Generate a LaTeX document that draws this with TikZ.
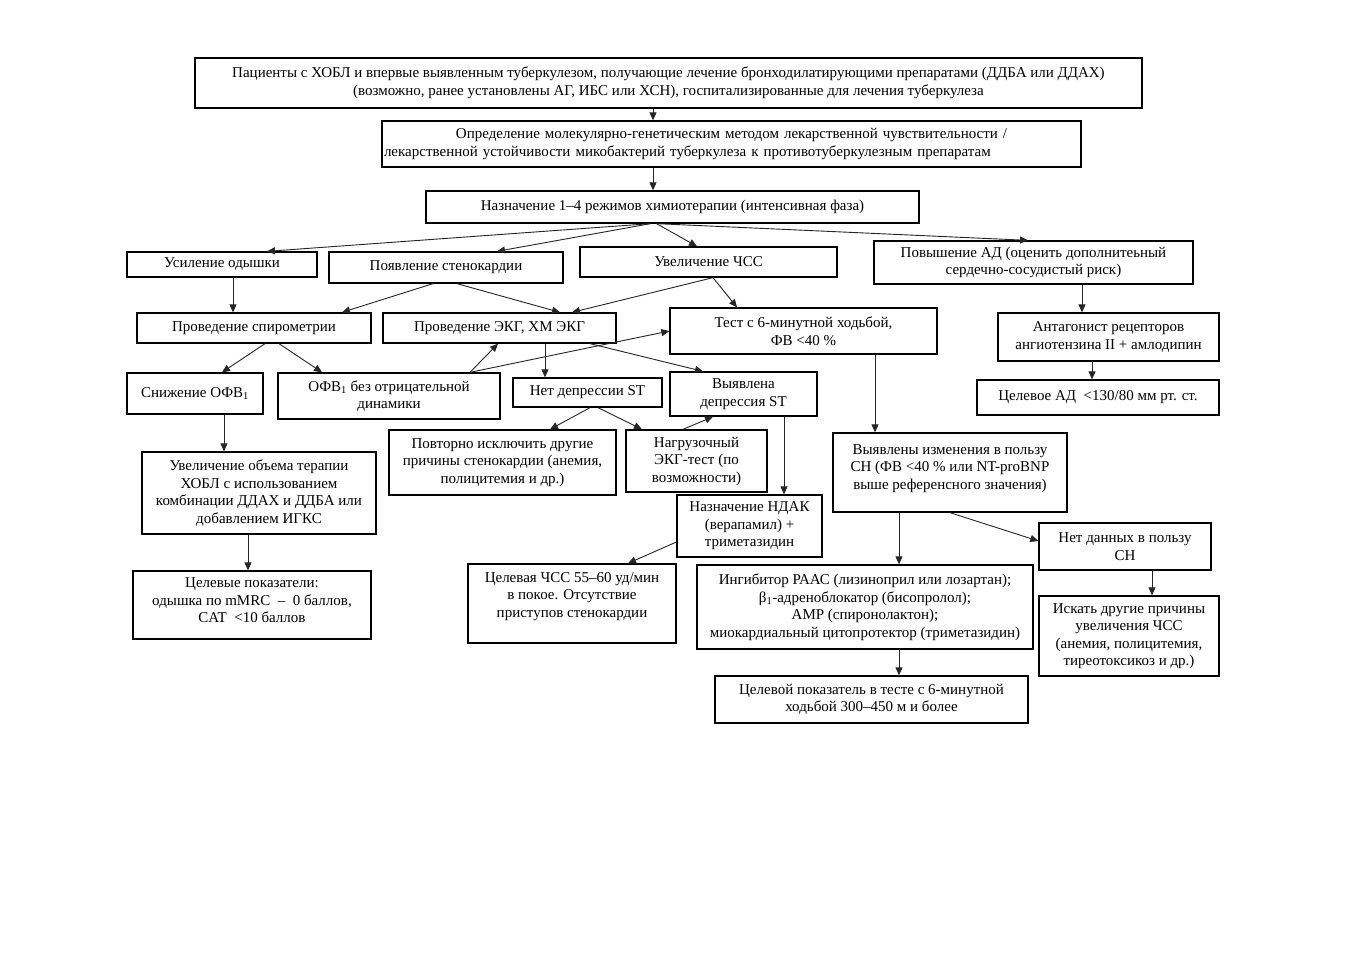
\documentclass[tikz,border=0pt]{standalone}
\usepackage{fontspec}
\setmainfont{Liberation Serif}
\usetikzlibrary{arrows.meta}
\tikzset{
  bx/.style={draw=black, line width=1.3pt, inner sep=0pt, align=center,
    font=\fontsize{15}{17.5}\selectfont},
  arr/.style={draw=black!85, line width=0.9pt, -{Triangle[length=8pt,width=7pt]}},
}
\begin{document}
\begin{tikzpicture}[x=1pt,y=-1pt]
\path[use as bounding box, fill=white] (0,0) rectangle (1357,960);

\node[bx, minimum width=947pt, minimum height=50pt] (pat) at (668.5,83)
  {Пациенты с ХОБЛ и впервые выявленным туберкулезом, получающие лечение бронходилатирующими препаратами (ДДБА или ДДАХ)\\(возможно, ранее установлены АГ, ИБС или ХСН), госпитализированные для лечения туберкулеза};
\node[bx, minimum width=699pt, minimum height=46pt, text width=695pt, align=left] (mol) at (731.5,144)
  {\makebox[695pt][c]{Определение молекулярно-генетическим методом лекарственной чувствительности /}\\лекарственной устойчивости микобактерий туберкулеза к противотуберкулезным препаратам};
\node[bx, minimum width=493pt, minimum height=32pt] (chemo) at (672.5,207)
  {Назначение 1–4 режимов химиотерапии (интенсивная фаза)};

\node[bx, minimum width=190pt, minimum height=25pt] (dysp) at (222,264.5) {Усиление одышки};
\node[bx, minimum width=234pt, minimum height=31pt] (angina) at (446,267.5) {Появление стенокардии};
\node[bx, minimum width=257pt, minimum height=30pt] (hr) at (708.5,262) {Увеличение ЧСС};
\node[bx, minimum width=319pt, minimum height=43pt] (bp) at (1033.5,262.5)
  {Повышение АД (оценить дополнитеьный\\сердечно-сосудистый риск)};

\node[bx, minimum width=234pt, minimum height=30pt] (spiro) at (254,328) {Проведение спирометрии};
\node[bx, minimum width=233pt, minimum height=30pt] (ecg) at (499.5,328) {Проведение ЭКГ, ХМ ЭКГ};
\node[bx, minimum width=267pt, minimum height=46pt] (walk) at (803.5,331) {Тест с 6-минутной ходьбой,\\ФВ <40 \%};
\node[bx, minimum width=221pt, minimum height=48pt] (arb) at (1108.5,337)
  {Антагонист рецепторов\\ангиотензина II + амлодипин};
\node[bx, minimum width=242pt, minimum height=35pt] (bpt) at (1098,397.5)
  {Целевое АД\enspace<130/80 мм рт. ст.};

\node[bx, minimum width=136pt, minimum height=41pt] (fev) at (195,393.5) {Снижение ОФВ\textsubscript{1}};
\node[bx, minimum width=222pt, minimum height=46pt] (fevok) at (389,396)
  {ОФВ\textsubscript{1} без отрицательной\\динамики};
\node[bx, minimum width=149pt, minimum height=29pt] (nost) at (587.5,392.5) {Нет депрессии ST};
\node[bx, minimum width=147pt, minimum height=44pt] (st) at (743.5,394) {Выявлена\\депрессия ST};

\node[bx, minimum width=227pt, minimum height=65pt] (repeat) at (502.5,462.5)
  {Повторно исключить другие\\причины стенокардии (анемия,\\полицитемия и др.)};
\node[bx, minimum width=141pt, minimum height=62pt] (load) at (696.5,461)
  {Нагрузочный\\ЭКГ-тест (по\\возможности)};
\node[bx, minimum width=145pt, minimum height=62pt] (ndak) at (749.5,526)
  {Назначение НДАК\\(верапамил) +\\триметазидин};
\node[bx, minimum width=208pt, minimum height=79pt] (hrt) at (572,603.5)
  {Целевая ЧСС 55–60 уд/мин\\в покое. Отсутствие\\приступов стенокардии\\\mbox{}};

\node[bx, minimum width=234pt, minimum height=82pt] (fevup) at (259,493)
  {Увеличение объема терапии\\ХОБЛ с использованием\\комбинации ДДАХ и ДДБА или\\добавлением ИГКС};
\node[bx, minimum width=238pt, minimum height=68pt] (copdt) at (252,605)
  {Целевые показатели:\\одышка по mMRC\enspace–\enspace0 баллов,\\CAT\enspace<10 баллов\\[-8pt]\mbox{}};

\node[bx, minimum width=234pt, minimum height=79pt] (hf) at (950,472.5)
  {Выявлены изменения в пользу\\СН (ФВ <40 \% или NT-proBNP\\выше референсного значения)\\[-6pt]\mbox{}};
\node[bx, minimum width=172pt, minimum height=47pt] (nohf) at (1125,546.5)
  {Нет данных в пользу\\СН};
\node[bx, minimum width=180pt, minimum height=80pt] (other) at (1129,636)
  {Искать другие причины\\увеличения ЧСС\\(анемия, полицитемия,\\тиреотоксикоз и др.)};
\node[bx, minimum width=336pt, minimum height=84pt] (inh) at (865,607)
  {Ингибитор РААС (лизиноприл или лозартан);\\β\textsubscript{1}-адреноблокатор (бисопролол);\\АМР (спиронолактон);\\миокардиальный цитопротектор (триметазидин)};
\node[bx, minimum width=313pt, minimum height=47pt] (walkt) at (871.5,699.5)
  {Целевой показатель в тесте с 6-минутной\\ходьбой 300–450 м и более};

% connectors
\draw[arr] ([xshift=-15.5pt]pat.south) -- ([xshift=-78.5pt]mol.north);
\draw[arr] ([xshift=-78.5pt]mol.south) -- ([xshift=-19.5pt]chemo.north);
\draw[arr] ([xshift=-22pt]chemo.south) -- ([xshift=45pt]dysp.north);
\draw[arr] ([xshift=-22pt]chemo.south) -- ([xshift=51pt]angina.north);
\draw[arr] ([xshift=-16pt]chemo.south) -- ([xshift=-11.5pt]hr.north);
\draw[arr] ([xshift=-16pt]chemo.south) -- ([xshift=-5.5pt]bp.north);
\draw[arr] ([xshift=11pt]dysp.south) -- ([xshift=-21pt]spiro.north);
\draw[arr] ([xshift=-13pt]angina.south) -- ([xshift=88pt]spiro.north);
\draw[arr] ([xshift=11pt]angina.south) -- ([xshift=60.5pt]ecg.north);
\draw[arr] ([xshift=4.5pt]hr.south) -- ([xshift=72.5pt]ecg.north);
\draw[arr] ([xshift=4.5pt]hr.south) -- ([xshift=-66.5pt]walk.north);
\draw[arr] ([xshift=48.5pt]bp.south) -- ([xshift=-26.5pt]arb.north);
\draw[arr] ([xshift=-16.5pt]arb.south) -- ([xshift=-6pt]bpt.north);
\draw[arr] ([xshift=11pt]spiro.south) -- ([xshift=27pt]fev.north);
\draw[arr] ([xshift=25pt]spiro.south) -- ([xshift=-67pt]fevok.north);
\draw[arr] ([xshift=81pt]fevok.north) -- ([xshift=-1.5pt]ecg.south);
\draw[arr] ([xshift=81pt]fevok.north) -- (walk.west);
\draw[arr] ([xshift=45.5pt]ecg.south) -- ([xshift=-42.5pt]nost.north);
\draw[arr] ([xshift=90.5pt]ecg.south) -- ([xshift=-40.5pt]st.north);
\draw[arr] ([xshift=2.5pt]nost.south) -- ([xshift=47.5pt]repeat.north);
\draw[arr] ([xshift=10.5pt]nost.south) -- ([xshift=-54.5pt]load.north);
\draw[arr] ([xshift=-13.5pt]load.north) -- ([xshift=-30.5pt]st.south);
\draw[arr] ([xshift=40.5pt]st.south) -- ([xshift=34.5pt]ndak.north);
\draw[arr] ([yshift=-16pt]ndak.west) -- ([xshift=56pt]hrt.north);
\draw[arr] ([xshift=71.5pt]walk.south) -- ([xshift=-75pt]hf.north);
\draw[arr] ([xshift=-51pt]hf.south) -- ([xshift=34pt]inh.north);
\draw[arr] (hf.south) -- ([yshift=5.5pt]nohf.west);
\draw[arr] ([xshift=27pt]nohf.south) -- ([xshift=23pt]other.north);
\draw[arr] ([xshift=34pt]inh.south) -- ([xshift=27.5pt]walkt.north);
\draw[arr] ([xshift=29pt]fev.south) -- ([xshift=-35pt]fevup.north);
\draw[arr] ([xshift=-11pt]fevup.south) -- ([xshift=-4pt]copdt.north);
\end{tikzpicture}
\end{document}
